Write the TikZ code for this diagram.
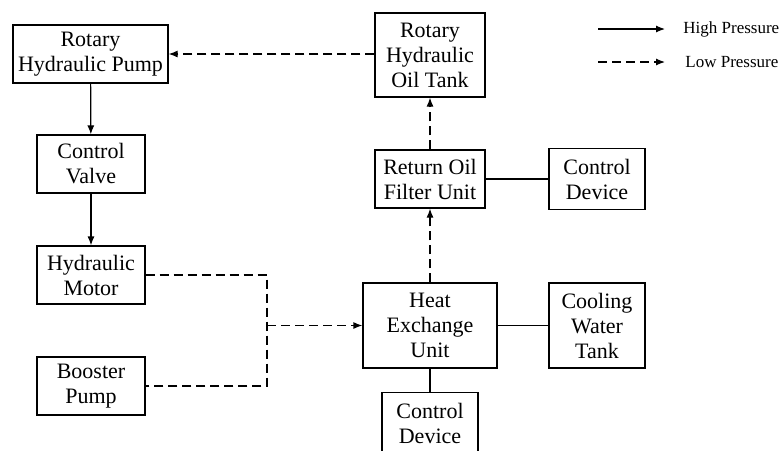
\documentclass[tikz,border=0pt]{standalone}
\usepackage{fontspec}
\setmainfont{Liberation Serif}
\usetikzlibrary{positioning, calc}
\usetikzlibrary{arrows.meta}

\tikzset{
  blocco/.style={draw, line width=0.6pt, align=center, inner sep=1pt,
    font=\fontsize{11}{12.5}\selectfont},
  alta/.style={line width=0.6pt, -{Latex[length=4.5pt,width=3.5pt]}},
  bassa/.style={line width=0.6pt, dash pattern=on 4.5pt off 2.5pt, -{Latex[length=4.5pt,width=3.5pt]}},
  bassalinea/.style={line width=0.6pt, dash pattern=on 4.5pt off 2.5pt},
  linea/.style={line width=0.6pt}
}

\begin{document}
\begin{tikzpicture}[x=0.5pt, y=-0.5pt]

\useasboundingbox (0,0) rectangle (781,450);

% ================== Colonna sinistra ==================
\node[blocco, minimum width=77.5pt, minimum height=29pt] (pompa) at (90.5,54) {Rotary\\Hydraulic Pump};
\node[blocco, minimum width=54pt, minimum height=29pt] (valvola) at (91,164) {Control\\Valve};
\node[blocco, minimum width=54pt, minimum height=29pt] (motore) at (91,275) {Hydraulic\\Motor};
\node[blocco, minimum width=54pt, minimum height=29pt] (booster) at (91,386) {Booster\\Pump};

% ================== Colonna centrale ==================
\node[blocco, minimum width=55pt, minimum height=42pt] (serbatoio) at (430,55) {Rotary\\Hydraulic\\Oil Tank};
\node[blocco, minimum width=55pt, minimum height=29pt] (filtro) at (430,179) {Return Oil\\Filter Unit};
\node[blocco, minimum width=67pt, minimum height=42.5pt] (scambiatore) at (430,325.5) {Heat\\Exchange\\Unit};
\node[blocco, minimum width=48pt, minimum height=31pt, anchor=north] (controlloB) at (430,392) {Control\\Device};

% ================== Colonna destra ==================
\node[blocco, minimum width=48pt, minimum height=30.5pt] (controlloA) at (597,179) {Control\\Device};
\node[blocco, minimum width=48pt, minimum height=42.5pt] (acqua) at (597,325.5) {Cooling\\Water\\Tank};

% --- Nodo di giunzione delle linee a bassa pressione
\coordinate (giunzione) at (267,325.5);

% --- Alta pressione
\draw[alta] (pompa) -- (valvola);
\draw[alta] (valvola) -- (motore);

% --- Bassa pressione
\draw[bassa] (serbatoio.west |- pompa.east) -- (pompa.east);
\draw[bassalinea] (motore.east) -| (giunzione) |- (booster.east);
\draw[bassa] (giunzione) -- (scambiatore.west);
\draw[bassa] (scambiatore) -- (filtro);
\draw[bassa] (filtro) -- (serbatoio);

% --- Collegamenti semplici
\draw[linea] (filtro) -- (controlloA);
\draw[linea] (scambiatore) -- (acqua);
\draw[linea] (scambiatore) -- (controlloB);

% ================== Legenda ==================
\coordinate (altaA) at (598,29);
\coordinate (altaB) at (665,29);
\coordinate (bassaA) at (598,62);
\coordinate (bassaB) at (665,62);
\node[anchor=west, inner sep=0pt, font=\fontsize{8.5}{10}\selectfont] (altaTxt) at (683,29) {High Pressure};
\node[anchor=west, inner sep=0pt, font=\fontsize{8.5}{10}\selectfont] (bassaTxt) at (685,62) {Low Pressure};
\draw[alta] (altaA) -- (altaB);
\draw[bassa] (bassaA) -- (bassaB);

\end{tikzpicture}
\end{document}
